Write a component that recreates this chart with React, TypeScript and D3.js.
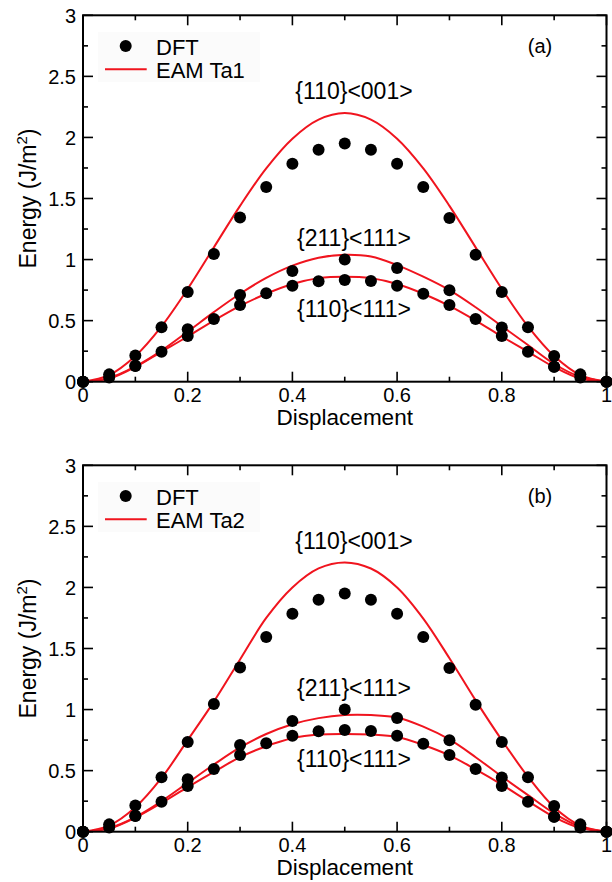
import React from "react";
import * as d3 from "d3";

// displacement grid used by the DFT points and the EAM curves
const disp = [0, 0.05, 0.1, 0.15, 0.2, 0.25, 0.3, 0.35, 0.4, 0.45, 0.5, 0.55, 0.6, 0.65, 0.7, 0.75, 0.8, 0.85, 0.9, 0.95, 1];
const disp211 = [0, 0.1, 0.2, 0.3, 0.4, 0.5, 0.6, 0.7, 0.8, 0.9, 1];

// DFT values (same in both panels)
const dft001 = [0, 0.06, 0.215, 0.445, 0.735, 1.045, 1.345, 1.595, 1.785, 1.9, 1.95, 1.9, 1.785, 1.595, 1.34, 1.04, 0.735, 0.445, 0.21, 0.06, 0];
const dft110 = [0, 0.035, 0.128, 0.246, 0.374, 0.513, 0.628, 0.724, 0.786, 0.822, 0.833, 0.825, 0.786, 0.72, 0.628, 0.513, 0.374, 0.246, 0.123, 0.035, 0];
const dft211 = [0, 0.13, 0.429, 0.71, 0.907, 1.0, 0.931, 0.748, 0.443, 0.123, 0];

// EAM Ta1
const ta1_001 = [0, 0.054, 0.21, 0.453, 0.76, 1.1, 1.44, 1.747, 1.99, 2.146, 2.2, 2.146, 1.99, 1.747, 1.44, 1.1, 0.76, 0.453, 0.21, 0.054, 0];
const ta1_211 = [0, 0.03, 0.125, 0.255, 0.41, 0.57, 0.72, 0.85, 0.95, 1.015, 1.04, 1.025, 0.955, 0.86, 0.75, 0.61, 0.455, 0.3, 0.145, 0.04, 0];
const ta1_110 = [0, 0.025, 0.12, 0.245, 0.37, 0.5, 0.62, 0.72, 0.8, 0.848, 0.86, 0.848, 0.8, 0.72, 0.62, 0.5, 0.37, 0.245, 0.12, 0.025, 0];

// EAM Ta2
const ta2_001 = [0, 0.05, 0.2, 0.44, 0.75, 1.065, 1.41, 1.75, 2.0, 2.156, 2.205, 2.155, 2.0, 1.745, 1.42, 1.075, 0.75, 0.45, 0.2, 0.05, 0];
const ta2_211 = [0, 0.03, 0.12, 0.25, 0.4, 0.55, 0.69, 0.8, 0.88, 0.93, 0.955, 0.955, 0.935, 0.86, 0.755, 0.61, 0.452, 0.3, 0.15, 0.04, 0];
const ta2_110 = [0, 0.025, 0.115, 0.235, 0.365, 0.49, 0.61, 0.7, 0.765, 0.795, 0.8, 0.795, 0.775, 0.71, 0.625, 0.51, 0.385, 0.25, 0.12, 0.03, 0];

const xMajor = [0, 0.2, 0.4, 0.6, 0.8, 1];
const xMinor = [0.1, 0.3, 0.5, 0.7, 0.9];
const yMajor = [0, 0.5, 1, 1.5, 2, 2.5, 3];
const yMinor = [0.25, 0.75, 1.25, 1.75, 2.25, 2.75];

const RED = "#f0141e";
const FONT = "'Liberation Sans', Arial, Helvetica, sans-serif";

const x = d3.scaleLinear().domain([0, 1]).range([83, 606.5]);
const y = d3.scaleLinear().domain([0, 3]).range([381.7, 15.3]);

const line = d3
    .line<[number, number]>()
    .x((d) => x(d[0]))
    .y((d) => y(d[1]))
    .curve(d3.curveCatmullRom.alpha(0.5));

const zip = (xs: number[], ys: number[]) => xs.map((v, i) => [v, ys[i]] as [number, number]);
const fmt = d3.format("~g");

const Panel = ({ offset, curves, label, tag }: { offset: number; curves: number[][]; label: string; tag: string }) => {
    const [x0, x1] = x.range();
    const [y0, y1] = y.range();
    return (
        <g transform={`translate(0,${offset})`} fontFamily={FONT}>
            {/* legend box */}
            <rect x={98} y={32} width={162} height={50} fill="#fbfbfb" />
            <circle cx={125.7} cy={46} r={6} fill="#000" />
            <text x={156} y={54.5} fontSize={22}>DFT</text>
            <line x1={105} x2={146.7} y1={69.3} y2={69.3} stroke={RED} strokeWidth={2} />
            <text x={156} y={78.3} fontSize={22}>{label}</text>
            <text x={540} y={53} fontSize={20} textAnchor="middle">{tag}</text>

            {/* annotations */}
            <text x={354} y={99} fontSize={23} textAnchor="middle">{"{110}<001>"}</text>
            <text x={354} y={246} fontSize={23} textAnchor="middle">{"{211}<111>"}</text>
            <text x={354} y={317} fontSize={23} textAnchor="middle">{"{110}<111>"}</text>

            {/* EAM curves */}
            {curves.map((c, i) => (
                <path key={i} d={line(zip(disp, c)) || ""} fill="none" stroke={RED} strokeWidth={2} />
            ))}

            {/* DFT points */}
            {[zip(disp, dft001), zip(disp, dft110), zip(disp211, dft211)].map((s, i) => (
                <g key={i}>
                    {s.map((d, j) => (
                        <circle key={j} cx={x(d[0])} cy={y(d[1])} r={6} fill="#000" />
                    ))}
                </g>
            ))}

            {/* frame */}
            <rect x={x0} y={y1} width={x1 - x0} height={y0 - y1} fill="none" stroke="#000" strokeWidth={2} />

            {/* ticks, all pointing inward */}
            {xMajor.map((v) => (
                <g key={"xM" + v}>
                    <line x1={x(v)} x2={x(v)} y1={y0} y2={y0 - 10} stroke="#000" strokeWidth={1.6} />
                    <line x1={x(v)} x2={x(v)} y1={y1} y2={y1 + 10} stroke="#000" strokeWidth={1.6} />
                    <text x={x(v)} y={402} fontSize={20} textAnchor="middle">{fmt(v)}</text>
                </g>
            ))}
            {xMinor.map((v) => (
                <g key={"xm" + v}>
                    <line x1={x(v)} x2={x(v)} y1={y0} y2={y0 - 5} stroke="#000" strokeWidth={1.6} />
                    <line x1={x(v)} x2={x(v)} y1={y1} y2={y1 + 5} stroke="#000" strokeWidth={1.6} />
                </g>
            ))}
            {yMajor.map((v) => (
                <g key={"yM" + v}>
                    <line x1={x0} x2={x0 + 10} y1={y(v)} y2={y(v)} stroke="#000" strokeWidth={1.6} />
                    <line x1={x1} x2={x1 - 10} y1={y(v)} y2={y(v)} stroke="#000" strokeWidth={1.6} />
                    <text x={76} y={y(v)} dy="0.36em" fontSize={20} textAnchor="end">{fmt(v)}</text>
                </g>
            ))}
            {yMinor.map((v) => (
                <g key={"ym" + v}>
                    <line x1={x0} x2={x0 + 5} y1={y(v)} y2={y(v)} stroke="#000" strokeWidth={1.6} />
                    <line x1={x1} x2={x1 - 5} y1={y(v)} y2={y(v)} stroke="#000" strokeWidth={1.6} />
                </g>
            ))}

            {/* axis titles */}
            <text x={(x0 + x1) / 2} y={425} fontSize={22.5} textAnchor="middle">Displacement</text>
            <text transform={`translate(36,${(y0 + y1) / 2}) rotate(-90)`} fontSize={23} textAnchor="middle">
                Energy (J/m<tspan dy={-9} fontSize={15}>2</tspan><tspan dy={9}>)</tspan>
            </text>
        </g>
    );
};

export default function App() {
    return (
        <svg width={612} height={882} style={{ position: "absolute", left: 0, top: 0, background: "#fff" }}>
            <Panel offset={0} curves={[ta1_001, ta1_211, ta1_110]} label="EAM Ta1" tag="(a)" />
            <Panel offset={450} curves={[ta2_001, ta2_211, ta2_110]} label="EAM Ta2" tag="(b)" />
        </svg>
    );
}
